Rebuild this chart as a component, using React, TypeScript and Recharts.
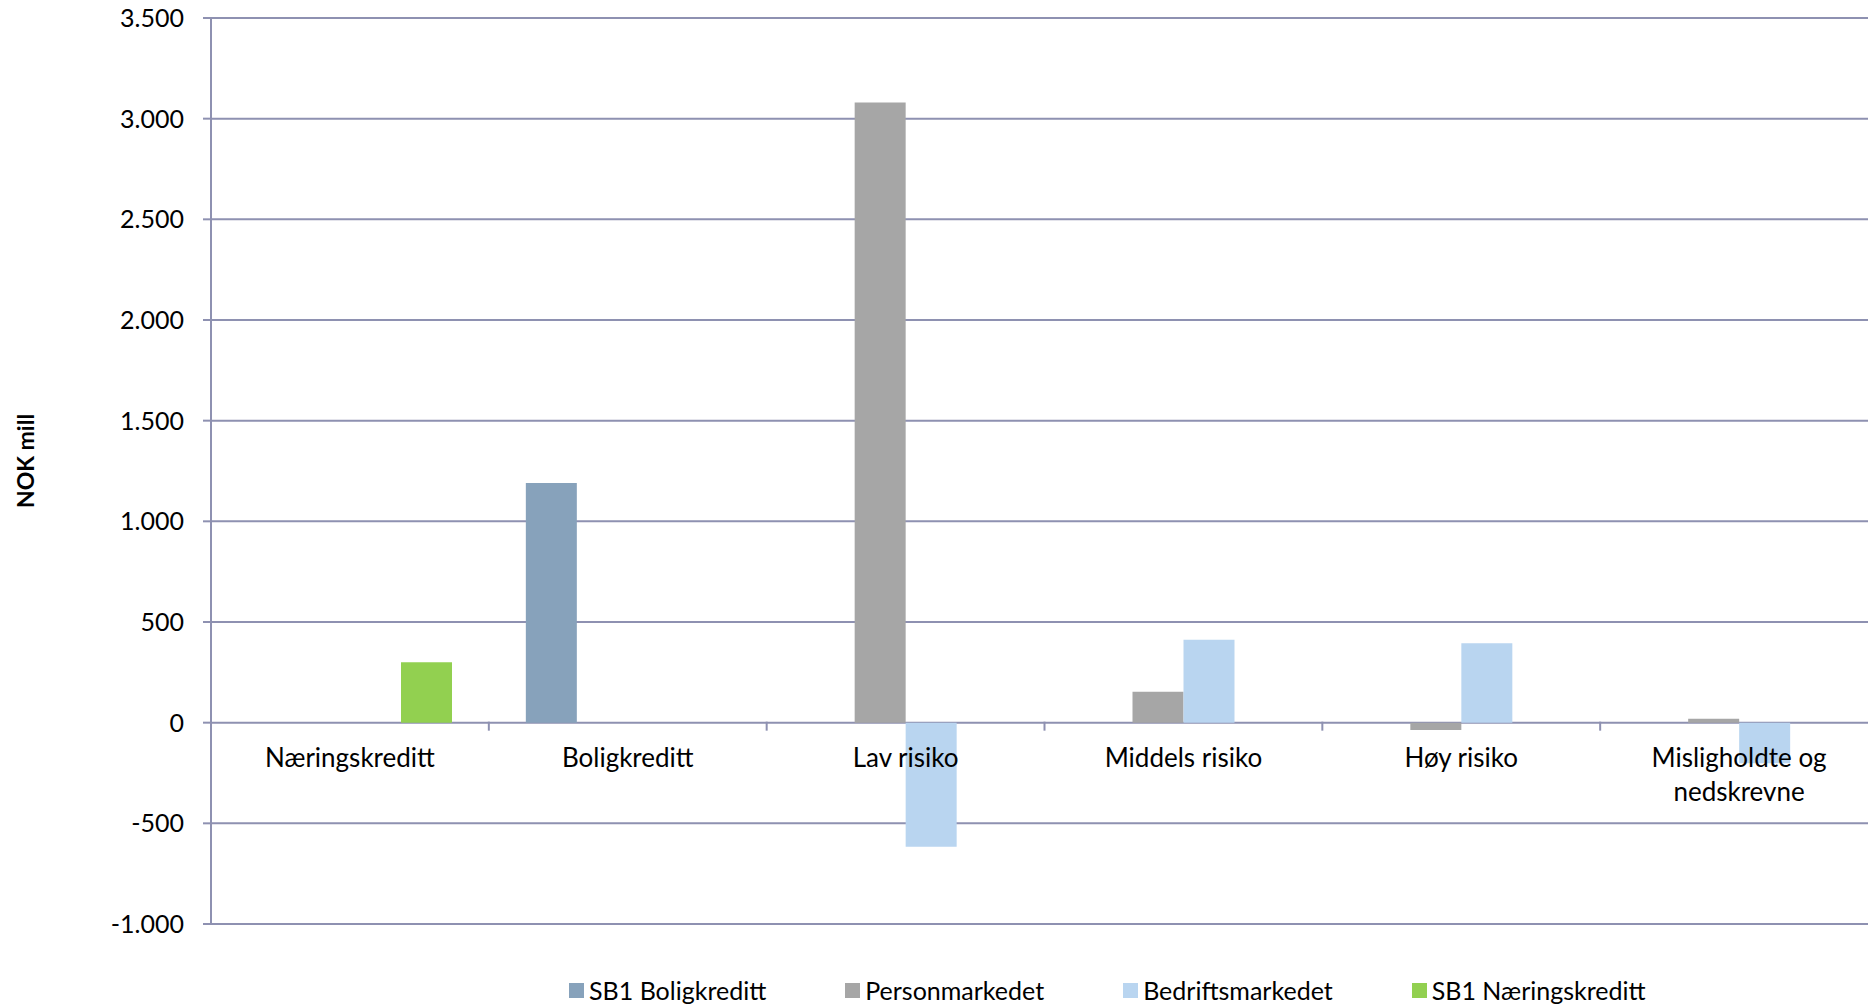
import { BarChart, Bar, XAxis, YAxis, CartesianGrid, Legend } from "recharts";

// Kategorier langs x-aksen
const categories = [
  "Næringskreditt",
  "Boligkreditt",
  "Lav risiko",
  "Middels risiko",
  "Høy risiko",
  "Misligholdte og nedskrevne",
];

// NOK mill per serie (null = ingen søyle)
const sb1Boligkreditt = [null, 1190, null, null, null, null];
const personmarkedet = [null, null, 3080, 154, -36, 20];
const bedriftsmarkedet = [null, null, -616, 412, 394, -202];
const sb1Naeringskreditt = [300, null, null, null, null, null];

const yTicks = [-1000, -500, 0, 500, 1000, 1500, 2000, 2500, 3000, 3500];

const seriesNames = ["SB1 Boligkreditt", "Personmarkedet", "Bedriftsmarkedet", "SB1 Næringskreditt"];
const seriesColors = ["#87A2BB", "#A6A6A6", "#B9D5F0", "#92D050"];
const seriesKeys = ["bolig", "person", "bedrift", "naering"];

const data = categories.map((name, i) => ({
  name,
  bolig: sb1Boligkreditt[i],
  person: personmarkedet[i],
  bedrift: bedriftsmarkedet[i],
  naering: sb1Naeringskreditt[i],
}));

const FONT = "Lato, 'Noto Sans', sans-serif";
const GRID = "#8E91B1";

const CHART_W = 1890;
const CHART_H = 1005;
const MARGIN = { top: 18, right: 12, bottom: 80, left: 0 };
const Y_AXIS_W = 211;
const X_AXIS_H = 1;
const Y_MIN = yTicks[0];
const Y_MAX = yTicks[yTicks.length - 1];

const PLOT_W = CHART_W - MARGIN.left - MARGIN.right - Y_AXIS_W;
const PLOT_H = CHART_H - MARGIN.top - MARGIN.bottom - X_AXIS_H;
const BAND = PLOT_W / categories.length;
const ZERO_OFFSET = (PLOT_H * (0 - Y_MIN)) / (Y_MAX - Y_MIN);

const fmt = (v: number) => {
  const s = Math.abs(v).toString().replace(/\B(?=(\d{3})+(?!\d))/g, ".");
  return v < 0 ? "-" + s : s;
};

function wrap(label: string, max = 16) {
  const words = label.split(" ");
  const lines: string[] = [];
  let cur = "";
  for (const w of words) {
    if (cur && (cur + " " + w).length > max) {
      lines.push(cur);
      cur = w;
    } else {
      cur = cur ? cur + " " + w : w;
    }
  }
  if (cur) lines.push(cur);
  return lines;
}

// x-aksen ligger på 0-linja, ikke nederst i plottet
function CategoryTick(props: any) {
  const { x, y, payload, index } = props;
  const y0 = y - ZERO_OFFSET - X_AXIS_H;
  const lines = wrap(payload.value);
  return (
    <g>
      {index > 0 && (
        <line x1={x - BAND / 2} x2={x - BAND / 2} y1={y0} y2={y0 + 9} stroke={GRID} strokeWidth={2} />
      )}
      <text x={x} y={y0 + 45} textAnchor="middle" fill="#000" fontSize={26} fontFamily={FONT}>
        {lines.map((l, i) => (
          <tspan key={i} x={x} dy={i === 0 ? 0 : 34}>
            {l}
          </tspan>
        ))}
      </text>
    </g>
  );
}

function LegendContent({ payload }: any) {
  const items = [...(payload || [])].sort(
    (a: any, b: any) => seriesNames.indexOf(a.value) - seriesNames.indexOf(b.value)
  );
  return (
    <div style={{ display: "flex", alignItems: "center", fontFamily: FONT, fontSize: 25, color: "#000", whiteSpace: "nowrap" }}>
      {items.map((p: any, i: number) => (
        <div key={i} style={{ display: "flex", alignItems: "center", marginRight: 79 }}>
          <span style={{ width: 15, height: 15, background: p.color, marginRight: 5, display: "inline-block" }} />
          <span>{p.value}</span>
        </div>
      ))}
    </div>
  );
}

export default function App() {
  return (
    <div style={{ position: "absolute", left: 0, top: 0, width: 1868, height: 1005, overflow: "hidden", background: "#fff" }}>
      <BarChart
        width={CHART_W}
        height={CHART_H}
        data={data}
        margin={MARGIN}
        barCategoryGap={37}
        barGap={0}
      >
        <CartesianGrid vertical={false} stroke={GRID} strokeWidth={2} />
        <XAxis
          dataKey="name"
          height={X_AXIS_H}
          axisLine={false}
          tickLine={false}
          tickSize={0}
          tickMargin={0}
          interval={0}
          tick={<CategoryTick />}
        />
        <YAxis
          width={Y_AXIS_W}
          domain={[Y_MIN, Y_MAX]}
          ticks={yTicks}
          interval={0}
          tickFormatter={fmt}
          axisLine={{ stroke: GRID, strokeWidth: 2 }}
          tickLine={{ stroke: GRID, strokeWidth: 2 }}
          tickSize={8}
          tickMargin={19}
          tick={{ fill: "#000", fontSize: 25, fontFamily: FONT }}
          label={({ viewBox }: any) => (
            <text
              x={viewBox.x + 25}
              y={461}
              transform={`rotate(-90, ${viewBox.x + 25}, 461)`}
              textAnchor="middle"
              dominantBaseline="central"
              fontFamily={FONT}
              fontWeight="bold"
              fontSize={23}
              fill="#000"
            >
              NOK mill
            </text>
          )}
        />
        <Legend
          layout="horizontal"
          verticalAlign="middle"
          align="center"
          itemSorter={null}
          content={<LegendContent />}
          wrapperStyle={{ top: 975, left: 569, width: "auto" }}
        />
        {seriesKeys.map((k, i) => (
          <Bar key={k} dataKey={k} name={seriesNames[i]} fill={seriesColors[i]} isAnimationActive={false} />
        ))}
      </BarChart>
    </div>
  );
}
